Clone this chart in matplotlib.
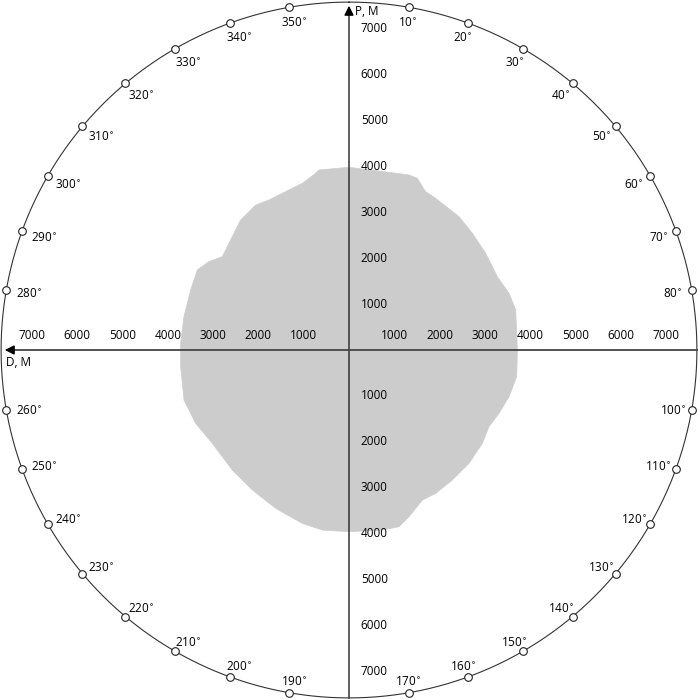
import numpy as np
import matplotlib
matplotlib.use("Agg")
import matplotlib.pyplot as plt

plt.rcParams['font.family'] = ['Open Sans', 'DejaVu Sans']

# boundary of the shaded zone: bearing (deg, clockwise from north) and range (m)
zone_bearing = [0, 8.5, 18.9, 21.7, 25.8, 29.7, 39.5, 46.6, 54.7, 63.7, 70.5, 76.5,
                90, 99, 106.3, 112.9, 118.7, 125, 133.4, 141.5, 148.8, 153.9, 160.2,
                164.2, 169.5, 180, 188.4, 195.1, 204.8, 214.6, 224.2, 235.7, 244.4,
                253.1, 264.3, 272.3, 281.4, 290.8, 297.8, 302.3, 306.4, 312.9, 320.2,
                327.2, 331.9, 336.9, 344.4, 349.3, 350.5]
zone_range = [4032, 4003, 4084, 4078, 3884, 3856, 3816, 3748, 3696, 3652, 3747, 3784,
              3716, 3748, 3679, 3594, 3523, 3593, 3644, 3665, 3698, 3686, 3910,
              4053, 4041, 4010, 4017, 3963, 3852, 3755, 3695, 3653, 3752,
              3806, 3734, 3719, 3716, 3738, 3785, 3654, 3473, 3567, 3736,
              3806, 3753, 3759, 3821, 3968, 4028]

tick_values = [1000, 2000, 3000, 4000, 5000, 6000, 7000]
bearing_marks = [b for b in range(10, 360, 10) if b % 90 != 0]

R = 7680          # radius of the outer circle (m)
px = 0.0453       # pixels per metre in the 700 px picture

fig = plt.figure(figsize=(7, 7), dpi=100)
ax = fig.add_axes([0, 0, 1, 1])
ax.set_xlim(-349 / px, 351 / px)
ax.set_ylim(-350 / px, 350 / px)
ax.set_aspect('equal')
ax.axis('off')

# shaded zone
th = np.radians(zone_bearing)
r = np.array(zone_range)
ax.fill(r * np.sin(th), r * np.cos(th), facecolor='#cccccc', edgecolor='#d2cfcb',
        lw=0.6, joinstyle='round', zorder=1)

# outer circle
t = np.linspace(0, 2 * np.pi, 721)
ax.plot(R * np.sin(t), R * np.cos(t), color='#333333', lw=0.8, zorder=2)

# axes with arrows
ax.plot([0, 0], [-R, R - 200], color='#333333', lw=1.1, zorder=3)
ax.plot([R, -R + 200], [0, 0], color='#444444', lw=1.3, zorder=3)
ax.annotate('', xy=(0, R - 20), xytext=(0, R - 260),
            arrowprops=dict(arrowstyle='-|>', color='black', lw=1, mutation_scale=14),
            zorder=4)
ax.annotate('', xy=(-R + 20, 0), xytext=(-R + 260, 0),
            arrowprops=dict(arrowstyle='-|>', color='black', lw=1, mutation_scale=14),
            zorder=4)
ax.text(140, R - 210, 'P, M', fontsize=8.5, ha='left', va='center', zorder=5)
ax.text(-R + 110, -280, 'D, M', fontsize=8.5, ha='left', va='center', zorder=5)

# axis tick labels
for v in tick_values:
    ax.text(v, 330, str(v), fontsize=8.5, ha='center', va='center', zorder=5)
    ax.text(-v, 330, str(v), fontsize=8.5, ha='center', va='center', zorder=5)
    ax.text(260, v * 1.015, str(v), fontsize=8.5, ha='left', va='center', zorder=5)
    ax.text(260, -v * 1.015, str(v), fontsize=8.5, ha='left', va='center', zorder=5)

# bearing markers and labels
bm = np.radians(bearing_marks)
ax.plot(R * np.sin(bm), R * np.cos(bm), 'o', ms=5.5, mfc='white', mec='#222222',
        mew=0.8, zorder=6)
for b, a in zip(bearing_marks, bm):
    lx = R * np.sin(a) - np.sin(a) * 21 / px + 2 / px
    ly = R * np.cos(a) - np.cos(a) * 13 / px - 3 / px
    ax.text(lx, ly, f'{b}$^{{\\circ}}$', fontsize=8.5,
            ha='center', va='center', zorder=5)

fig.savefig('out.png', dpi=100)
